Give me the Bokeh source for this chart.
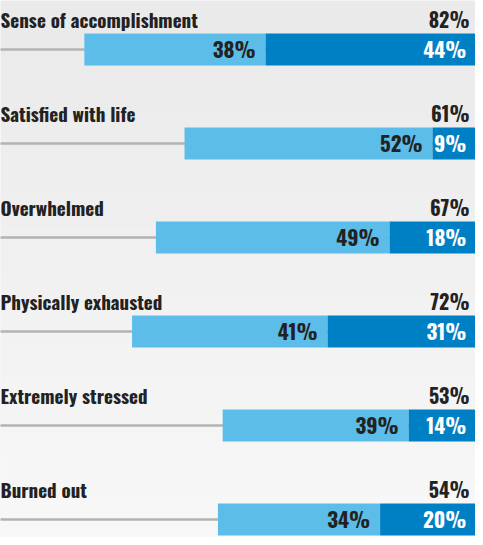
import numpy as np
from bokeh.plotting import figure
from bokeh.models import ColumnDataSource, Range1d
from bokeh.core.properties import value
from bokeh.embed import file_html
from bokeh.resources import INLINE

categories = ["Sense of accomplishment", "Satisfied with life", "Overwhelmed",
              "Physically exhausted", "Extremely stressed", "Burned out"]
light_vals = [38, 52, 49, 41, 39, 34]
dark_vals = [44, 9, 18, 31, 14, 20]
total_vals = [82, 61, 67, 72, 53, 54]

LIGHT = "#5cbde9"
DARK = "#0080c4"
TEXT = "#222222"
FONT = "Oswald"

W, H = 475, 537
ROW_PX = 94
FIRST_PX = 49
rows = list(range(len(categories)))
x0 = 100 - W / 4.77
y_top = -FIRST_PX / ROW_PX
y_bot = (H - FIRST_PX) / ROW_PX

p = figure(width=W, height=H, output_backend="svg", toolbar_location=None,
           x_range=Range1d(x0, 100), y_range=Range1d(y_bot, y_top),
           x_axis_location=None, y_axis_location=None, min_border=0)
p.outline_line_color = None
p.grid.visible = False
p.background_fill_color = "#f1f1f1"
p.border_fill_color = "#f1f1f1"

# background gradient
n = 64
c = np.linspace(0xea, 0xf8, n).astype(np.uint32)
img = (0xFF << 24) | (c << 16) | (c << 8) | c
img = img.reshape(n, 1).astype(np.uint32)
p.image_rgba(image=[img], x=x0, y=y_top, dw=100 - x0, dh=y_bot - y_top)

src = ColumnDataSource(dict(
    row=rows, cat=categories,
    light=light_vals, dark=dark_vals, total=total_vals,
    start=[100 - t for t in total_vals],
    mid=[100 - d for d in dark_vals],
    zero=[0] * len(rows), full=[100] * len(rows),
    light_lbl=[f"{v}%" for v in light_vals],
    dark_lbl=[f"{v}%" for v in dark_vals],
    total_lbl=[f"{v}%" for v in total_vals],
))

# gray track
p.segment(x0="zero", y0="row", x1="full", y1="row", source=src,
          line_color="#b3b3b3", line_width=2.5)

bh = 32 / ROW_PX
p.hbar(y="row", left="start", right="mid", height=bh, source=src,
       fill_color=LIGHT, line_color=None)
p.hbar(y="row", left="mid", right="full", height=bh, source=src,
       fill_color=DARK, line_color=None)

# category labels
p.text(x="zero", y="row", text="cat", source=src, x_offset=2, y_offset=-31,
       text_font=value(FONT), text_font_style="bold", text_font_size="19px",
       text_color=TEXT, text_baseline="alphabetic", text_align="left")
# totals
p.text(x="full", y="row", text="total_lbl", source=src, x_offset=-6, y_offset=-31,
       text_font=value(FONT), text_font_style="bold", text_font_size="20px",
       text_color=TEXT, text_baseline="alphabetic", text_align="right")
# in-bar labels
p.text(x="mid", y="row", text="light_lbl", source=src, x_offset=-10, y_offset=-1,
       text_font=value(FONT), text_font_style="bold", text_font_size="21px",
       text_color=TEXT, text_baseline="alphabetic", text_align="right")
p.text(x="full", y="row", text="dark_lbl", source=src, x_offset=-9, y_offset=-1,
       text_font=value(FONT), text_font_style="bold", text_font_size="21px",
       text_color="white", text_baseline="alphabetic", text_align="right")

open("out.html", "w").write(file_html(p, INLINE))
